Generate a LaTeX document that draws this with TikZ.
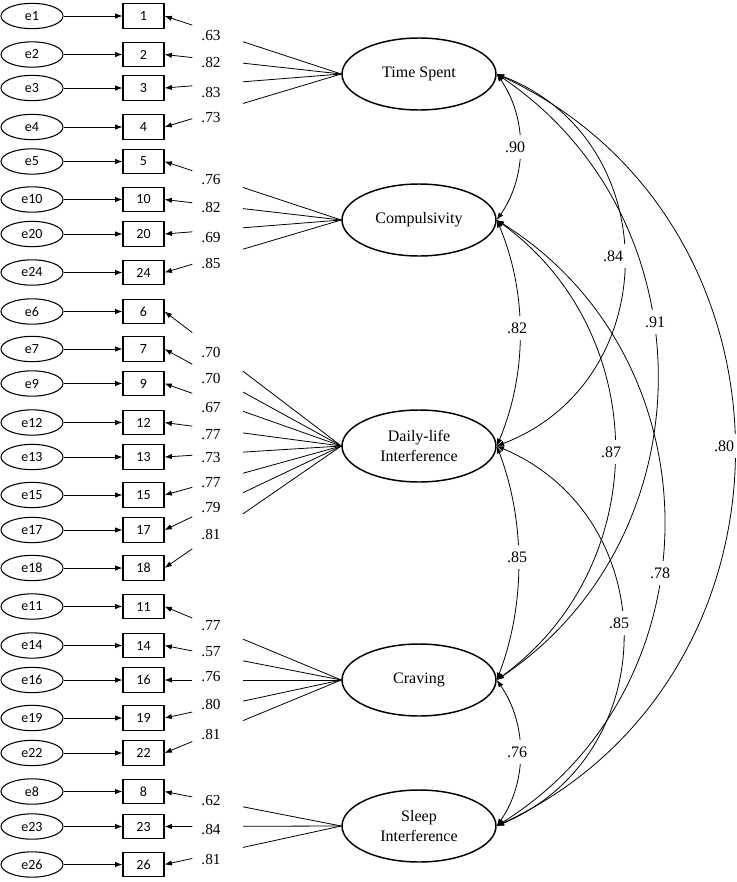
\documentclass[tikz,border=0pt]{standalone}
\usepackage{fontspec}
\setmainfont{Liberation Serif}
\newfontfamily\calibri{Carlito}
\usetikzlibrary{arrows,arrows.meta,shapes,positioning,calc}

\begin{document}
\begin{tikzpicture}[x=0.75pt, y=-0.75pt,
    >={Latex[length=5.5pt,width=4pt]},
    err/.style={ellipse, draw, line width=0.8pt, minimum width=46.5pt, minimum height=19pt, inner sep=0pt, font=\calibri\fontsize{10.5}{12}\selectfont},
    obs/.style={rectangle, draw, line width=0.8pt, minimum width=30.75pt, minimum height=18.4pt, inner sep=0pt, font=\calibri\fontsize{10.5}{12}\selectfont},
    lat/.style={ellipse, draw, line width=1.1pt, minimum width=115.5pt, minimum height=54pt, inner sep=0pt, align=center, font=\fontsize{12}{14.5}\selectfont},
    load/.style={inner sep=0pt, font=\fontsize{11.5}{13}\selectfont},
    corr/.style={fill=white, inner xsep=2pt, inner ysep=5pt, font=\fontsize{12}{14}\selectfont},
    cov/.style={<->, line width=0.6pt}]
    \useasboundingbox (0,0) rectangle (737,882);

    % Latent factors
    \node[lat] (ts) at (419,74) {Time Spent};
    \node[lat] (comp) at (419,220) {Compulsivity};
    \node[lat] (dli) at (419,446) {Daily-life\\Interference};
    \node[lat] (crav) at (419,680) {Craving};
    \node[lat] (slp) at (419,826) {Sleep\\Interference};

    % Items: number / row / label row / loading / factor
    \foreach \i/\y/\ly/\v/\f in {1/16/36/.63/ts, 2/54.5/63/.82/ts, 3/88/93/.83/ts, 4/127/118/.73/ts,
        5/161.5/180/.76/comp, 10/199.5/208/.82/comp, 20/234/238/.69/comp, 24/272.5/264/.85/comp,
        6/311.5/353/.70/dli, 7/349/379/.70/dli, 9/383.5/408/.67/dli, 12/422.5/435/.77/dli,
        13/457/458/.73/dli, 15/495/483/.77/dli, 17/530/508/.79/dli, 18/568/535/.81/dli,
        11/606.5/626/.77/crav, 14/645.5/652/.57/crav, 16/680/677/.76/crav, 19/718/705/.80/crav, 22/753/735/.81/crav,
        8/791.5/801/.62/slp, 23/826.5/829/.84/slp, 26/864.5/859/.81/slp}{
        \node[err] (e\i) at (32,\y) {e\i};
        \node[obs] (x\i) at (143.5,\y) {\i};
        \draw[->, line width=0.6pt] (e\i) -- (x\i);
        \draw[line width=0.6pt] (\f.west) -- ($(\f.west)!0.556!(x\i.east)$);
        \draw[->, line width=0.6pt] ($(\f.west)!0.843!(x\i.east)$) -- (x\i.east);
        \node[load] at (211,\ly) {\v};
    }

    % Correlations
    \draw[cov] (ts.east) to[bend left=35, looseness=0.94] (comp.east);
    \draw[cov] (comp.east) to[bend left=23, looseness=0.89] (dli.east);
    \draw[cov] (dli.east) to[bend left=21, looseness=0.88] (crav.east);
    \draw[cov] (crav.east) to[bend left=35, looseness=0.94] (slp.east);
    \draw[cov] (ts.east) to[bend left=69, looseness=1.25] (dli.east);
    \draw[cov] (ts.east) to[bend left=56, looseness=1.09] (crav.east);
    \draw[cov] (ts.east) to[bend left=65, looseness=1.19] (slp.east);
    \draw[cov] (comp.east) to[bend left=54, looseness=1.08] (crav.east);
    \draw[cov] (comp.east) to[bend left=58, looseness=1.11] (slp.east);
    \draw[cov] (dli.east) to[bend left=67, looseness=1.23] (slp.east);

    \node[corr] at (515,147) {.90};
    \node[corr] at (517,328) {.82};
    \node[corr] at (517,557) {.85};
    \node[corr] at (517,752) {.76};
    \node[corr] at (613,256) {.84};
    \node[corr] at (655,322) {.91};
    \node[corr] at (611,452) {.87};
    \node[corr, inner xsep=3pt] at (724,446) {.80};
    \node[corr] at (660,573) {.78};
    \node[corr] at (619,623) {.85};
\end{tikzpicture}
\end{document}
